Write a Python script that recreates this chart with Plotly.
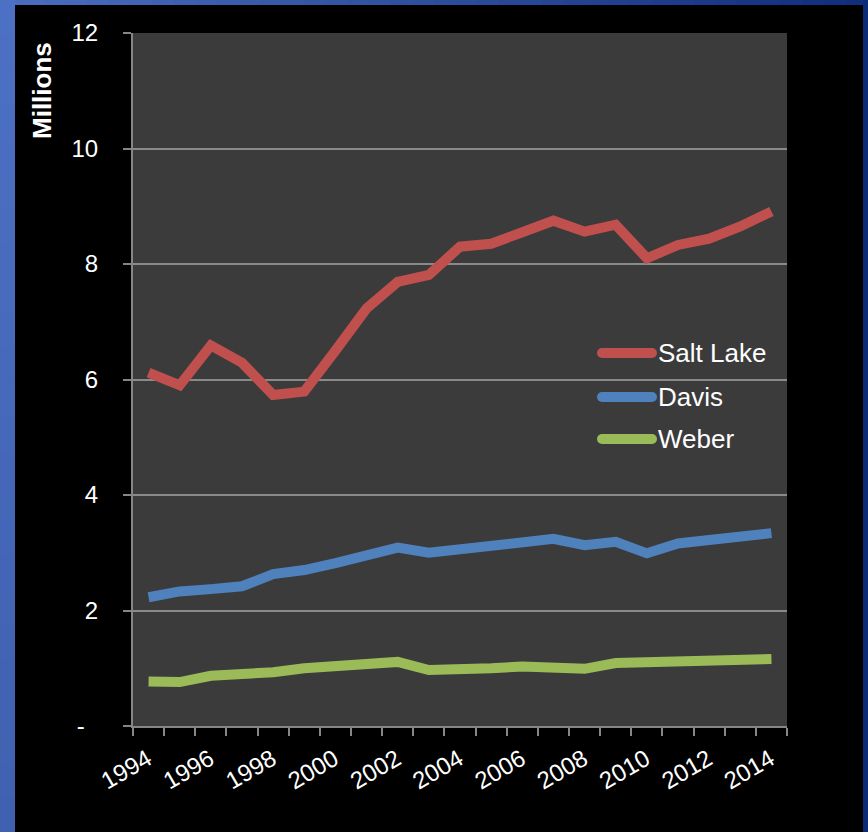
import plotly.graph_objects as go

# Annual totals by county, in millions
years = list(range(1994, 2015))
salt_lake = [6.12, 5.90, 6.59, 6.29, 5.73, 5.79, 6.50, 7.23, 7.69, 7.81, 8.30,
             8.35, 8.55, 8.75, 8.56, 8.68, 8.10, 8.33, 8.44, 8.65, 8.91]
davis = [2.23, 2.33, 2.37, 2.42, 2.63, 2.70, 2.82, 2.94, 3.09, 3.00, 3.05,
         3.12, 3.17, 3.24, 3.13, 3.19, 2.99, 3.16, 3.22, 3.27, 3.34]
weber = [0.77, 0.76, 0.87, 0.89, 0.93, 1.00, 1.03, 1.06, 1.11, 0.97, 0.97,
         1.00, 1.03, 1.03, 0.99, 1.09, 1.10, 1.12, 1.13, 1.11, 1.16]

series_names = ["Salt Lake", "Davis", "Weber"]
series_values = [salt_lake, davis, weber]
series_colors = ["#c0504d", "#4f81bd", "#9bbb59"]

y_ticks = [0, 2, 4, 6, 8, 10, 12]
y_labels = ["-\u00a0\u00a0", "2", "4", "6", "8", "10", "12"]
x_ticks = years[::2]

W, H = 868, 832
ML, MR, MT, MB = 133, 81, 33, 106
PW, PH = W - ML - MR, H - MT - MB


def px_x(p):
    return (p - ML) / PW


def px_y(p):
    return (H - MB - p) / PH


FONT = "Liberation Sans, Arial, sans-serif"

fig = go.Figure()
for name, vals, col in zip(series_names, series_values, series_colors):
    fig.add_trace(go.Scatter(x=years, y=vals, mode="lines", name=name,
                             line=dict(color=col, width=10),
                             showlegend=False))

shapes = []


def mix(c1, c2, t):
    return "#%02x%02x%02x" % tuple(round(a + (b - a) * t) for a, b in zip(c1, c2))


# blue slide frame: left edge, top edge (gradient) and right edge
n = 24
for i in range(n):
    y0, y1 = i * H / n, (i + 1) * H / n + 2
    shapes.append(dict(type="rect", xref="paper", yref="paper", layer="below",
                       x0=px_x(0), x1=px_x(15), y0=px_y(min(y1, H)), y1=px_y(y0),
                       line=dict(width=0),
                       fillcolor=mix((0x4c, 0x70, 0xc4), (0x40, 0x60, 0xb0), i / n)))
light, dark = (0x4a, 0x6c, 0xbf), (0x10, 0x2e, 0x7c)
for i in range(40):
    x0, x1 = i * W / 40, (i + 1) * W / 40 + 2
    shapes.append(dict(type="rect", xref="paper", yref="paper", layer="below",
                       x0=px_x(max(x0, 15)), x1=px_x(min(x1, W)), y0=px_y(5), y1=px_y(0),
                       line=dict(width=0), fillcolor=mix(light, dark, i / 39)))
shapes.append(dict(type="rect", xref="paper", yref="paper", layer="below",
                   x0=px_x(863), x1=px_x(W), y0=px_y(H), y1=px_y(0),
                   line=dict(width=0), fillcolor="#0b2b78"))

# legend drawn as line samples with labels
annotations = []
leg_y = [353, 397, 439]
for name, col, yy in zip(series_names, series_colors, leg_y):
    shapes.append(dict(type="line", xref="paper", yref="paper",
                       x0=px_x(602), x1=px_x(652), y0=px_y(yy), y1=px_y(yy),
                       line=dict(color=col, width=10)))
    for cx in (602, 652):
        shapes.append(dict(type="circle", xref="paper", yref="paper",
                           x0=px_x(cx - 5), x1=px_x(cx + 5),
                           y0=px_y(yy + 5), y1=px_y(yy - 5),
                           line=dict(width=0), fillcolor=col))
    annotations.append(dict(text=name, xref="paper", yref="paper",
                            x=px_x(656), y=px_y(yy), xanchor="left", yanchor="middle",
                            showarrow=False, font=dict(family=FONT, size=26, color="white")))

annotations.append(dict(text="<b>Millions</b>", xref="paper", yref="paper",
                        x=px_x(42), y=px_y(91), textangle=-90, showarrow=False,
                        xanchor="center", yanchor="middle",
                        font=dict(family=FONT, size=26, color="white")))

fig.update_layout(
    width=W, height=H,
    margin=dict(l=ML, r=MR, t=MT, b=MB, pad=0),
    paper_bgcolor="#000000",
    plot_bgcolor="#3b3b3b",
    showlegend=False,
    shapes=shapes,
    annotations=annotations,
    xaxis=dict(
        range=[years[0] - 0.5, years[-1] + 0.5],
        tickmode="array", tickvals=x_ticks, ticktext=[str(v) for v in x_ticks],
        tickangle=-30, ticks="", ticklabelstandoff=8, ticklabelshift=-1,
        tickfont=dict(family=FONT, size=24, color="white"),
        showgrid=False, zeroline=False,
        showline=True, linecolor="#868686", linewidth=2,
        minor=dict(tickmode="linear", tick0=years[0] - 0.5, dtick=1,
                   ticks="outside", ticklen=8, tickwidth=2, tickcolor="#868686",
                   showgrid=False),
    ),
    yaxis=dict(
        range=[0, 12], tickmode="array", tickvals=y_ticks, ticktext=y_labels,
        ticks="outside", ticklen=8, tickwidth=2, tickcolor="#868686",
        ticklabelstandoff=20,
        tickfont=dict(family=FONT, size=24, color="white"),
        showgrid=True, gridcolor="#8a8a8a", gridwidth=2,
        zeroline=False, showline=True, linecolor="#868686", linewidth=2,
    ),
)

fig.write_html("out.html")
